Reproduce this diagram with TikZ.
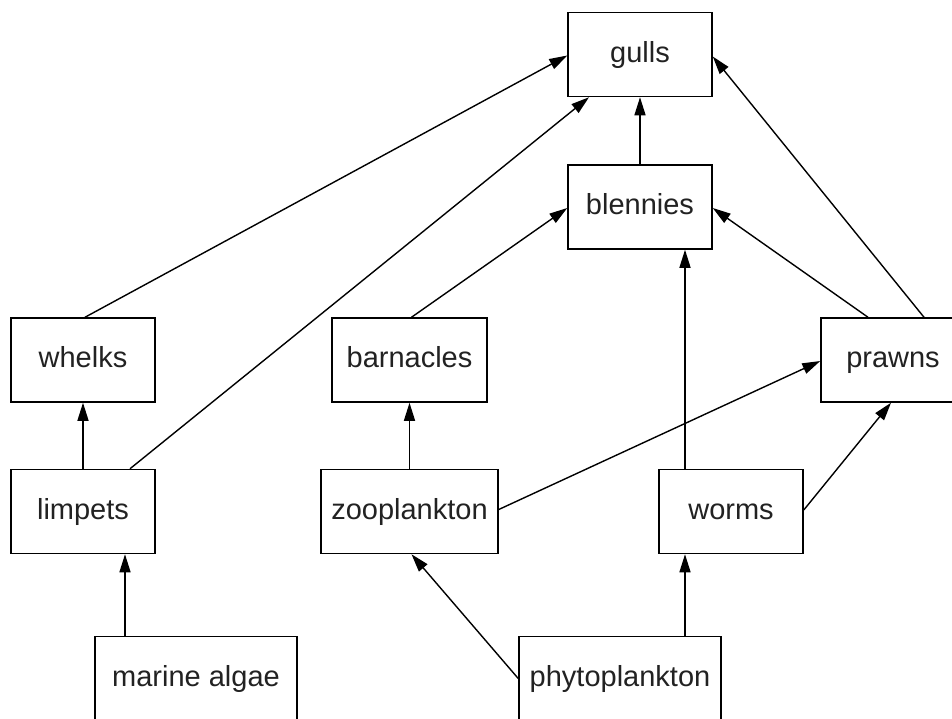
\documentclass[tikz,border=0pt]{standalone}
\usepackage{fontspec}
\setmainfont{Liberation Sans}
\usetikzlibrary{arrows.meta}
\definecolor{txt}{HTML}{222222}
\begin{document}
\begin{tikzpicture}[x=1pt,y=-1pt,
  box/.style={draw=black,line width=1.5pt,fill=white,inner sep=0pt,minimum width=144pt,minimum height=84pt,text height=21pt,text depth=6pt,font=\fontsize{29}{34}\selectfont,text=txt},
  arr/.style={draw=black,line width=1.4pt,-{Triangle[length=18pt,width=11pt]}}]
\useasboundingbox (0,0) rectangle (952,718);
\clip (0,0) rectangle (952,718);
\node[box] (gulls) at (640,54.5) {gulls};
\node[box] (blennies) at (640,207) {blennies};
\node[box] (whelks) at (83,360) {whelks};
\node[box,minimum width=155pt] (barnacles) at (409.5,360) {barnacles};
\node[box] (prawns) at (893,360) {prawns};
\node[box] (limpets) at (83,511.5) {limpets};
\node[box,minimum width=177pt] (zoo) at (409.5,511.5) {zooplankton};
\node[box] (worms) at (731,511.5) {worms};
\node[box,minimum width=202pt] (algae) at (196,678.5) {marine algae};
\node[box,minimum width=202pt] (phyto) at (620,678.5) {phytoplankton};

\draw[arr] ([xshift=2pt]whelks.north) -- ([yshift=-1pt]gulls.west);
\draw[arr] ([xshift=47pt]limpets.north) -- ([xshift=-51pt]gulls.south);
\draw[arr] (blennies.north) -- (gulls.south);
\draw[arr] ([xshift=31pt]prawns.north) -- ([yshift=-2pt]gulls.east);
\draw[arr] ([xshift=2pt]barnacles.north) -- ([yshift=-1pt]blennies.west);
\draw[arr] ([xshift=-25pt]prawns.north) -- ([yshift=-1pt]blennies.east);
\draw[arr] ([xshift=-46pt]worms.north) -- ([xshift=45pt]blennies.south);
\draw[arr] (limpets.north) -- (whelks.south);
\draw[arr] (zoo.north) -- (barnacles.south);
\draw[arr] ([yshift=2pt]zoo.east) -- ([yshift=-1pt]prawns.west);
\draw[arr] ([yshift=1.5pt]worms.east) -- ([xshift=-2pt]prawns.south);
\draw[arr] ([xshift=-71pt]algae.north) -- ([xshift=42pt]limpets.south);
\draw[arr] (phyto.west) -- ([xshift=2pt]zoo.south);
\draw[arr] ([xshift=65pt]phyto.north) -- ([xshift=-46pt]worms.south);
\end{tikzpicture}
\end{document}
